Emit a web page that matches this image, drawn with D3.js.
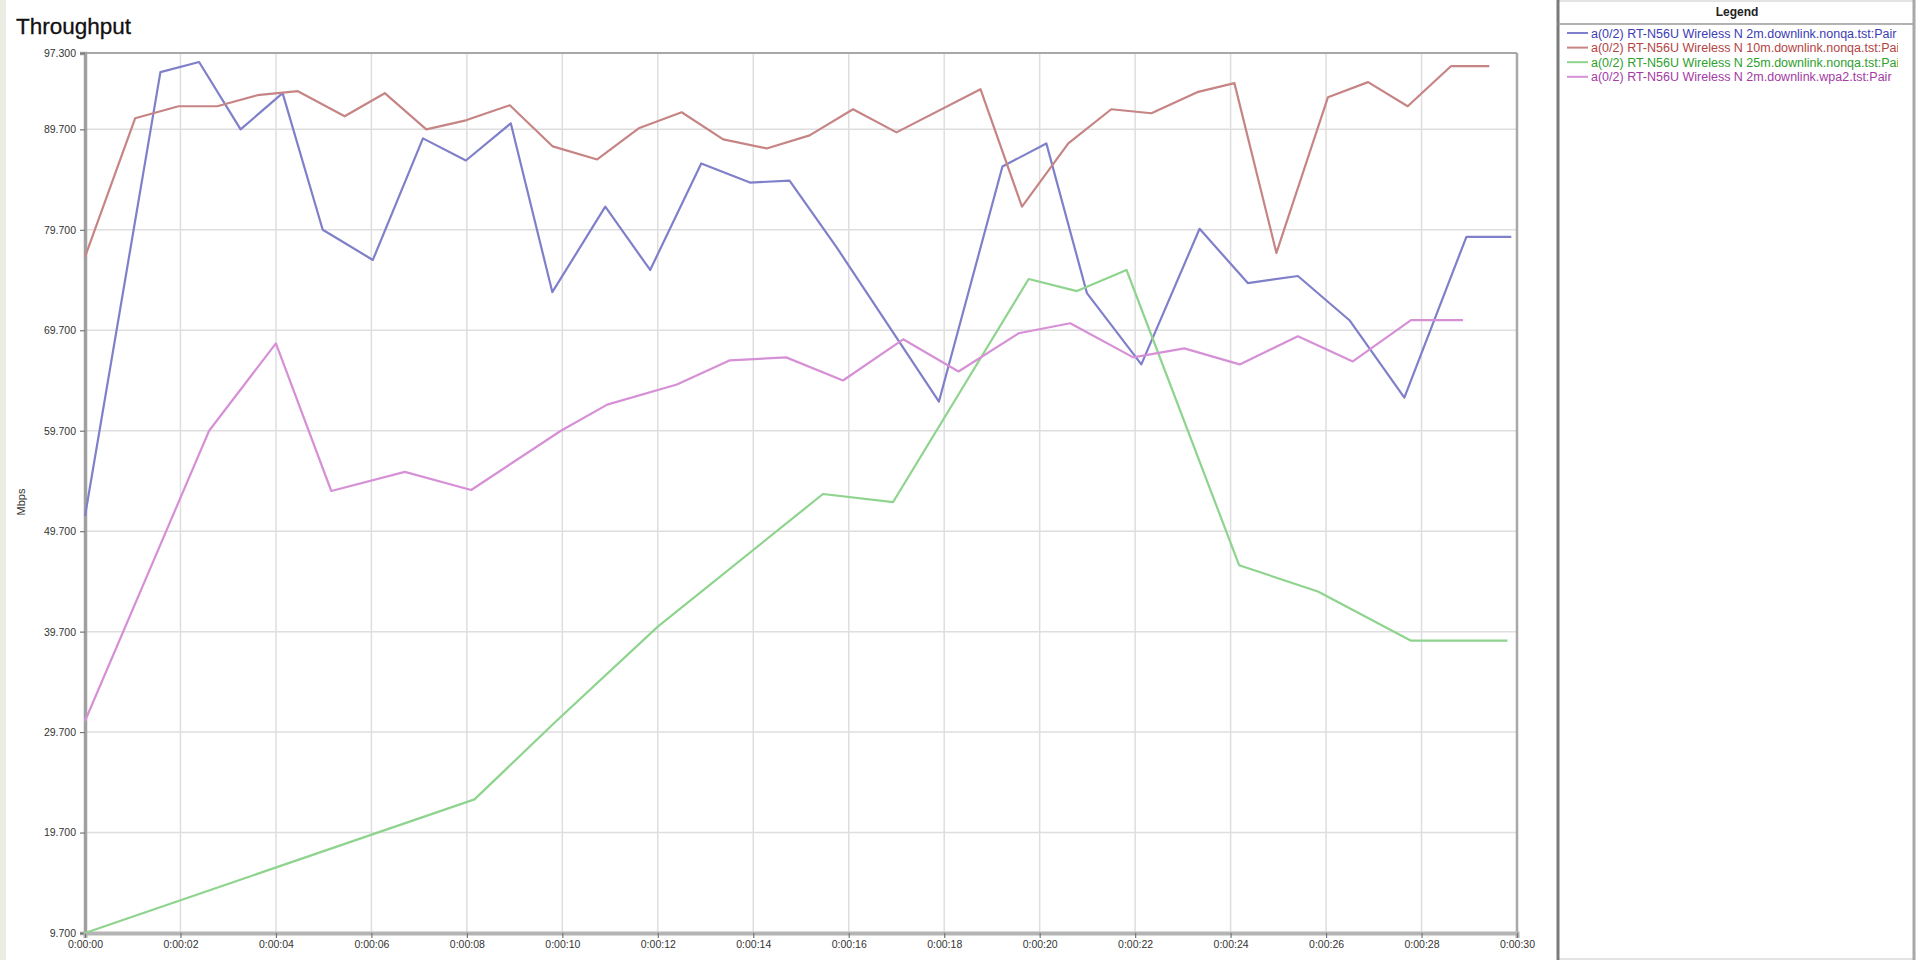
<!DOCTYPE html>
<html>
<head>
<meta charset="utf-8">
<script src="https://cdn.jsdelivr.net/npm/d3@7"></script>
<style>
  html, body { margin: 0; padding: 0; background: #ffffff; }
  svg { display: block; }
  text { font-family: "Liberation Sans", Arial, sans-serif; }
</style>
</head>
<body>
<svg id="chart" width="1920" height="960"></svg>
<script>
// ---- Data ----
const seriesNames = [
  "a(0/2) RT-N56U Wireless N 2m.downlink.nonqa.tst:Pair",
  "a(0/2) RT-N56U Wireless N 10m.downlink.nonqa.tst:Pair",
  "a(0/2) RT-N56U Wireless N 25m.downlink.nonqa.tst:Pair",
  "a(0/2) RT-N56U Wireless N 2m.downlink.wpa2.tst:Pair"
];
const lineColors = ["#7f7fca", "#c68484", "#8ed48e", "#d690d6"];
const textColors = ["#3c3cb4", "#b44444", "#2ea02e", "#a43aa4"];

// seconds
const blueT = [0, 1.58, 2.39, 3.26, 4.14, 4.98, 6.03, 7.08, 7.98, 8.92, 9.79, 10.9, 11.84, 12.91, 13.93, 14.76, 15.74, 17.89, 19.22, 20.14, 20.99, 22.13, 23.35, 24.36, 25.41, 26.49, 27.64, 28.94, 29.88];
const blueV = [51.2, 95.4, 96.4, 89.7, 93.3, 79.7, 76.7, 88.8, 86.6, 90.3, 73.5, 82.0, 75.7, 86.3, 84.4, 84.6, 78.0, 62.6, 86.0, 88.3, 73.4, 66.3, 79.8, 74.4, 75.1, 70.7, 63.0, 79.0, 79.0];

const redT = [0, 1.05, 1.96, 2.77, 3.61, 4.46, 5.44, 6.28, 7.15, 7.98, 8.9, 9.8, 10.73, 11.6, 12.5, 13.37, 14.28, 15.18, 16.09, 17.0, 18.76, 19.63, 20.6, 21.5, 22.34, 23.3, 24.08, 24.96, 26.04, 26.88, 27.71, 28.62, 29.42];
const redV = [77.0, 90.8, 92.0, 92.0, 93.1, 93.5, 91.0, 93.3, 89.7, 90.6, 92.1, 88.0, 86.7, 89.8, 91.4, 88.7, 87.8, 89.1, 91.7, 89.4, 93.7, 82.0, 88.3, 91.7, 91.3, 93.4, 94.3, 77.4, 92.9, 94.4, 92.0, 96.0, 96.0];

const greenT = [0, 8.16, 9.83, 12.0, 15.46, 16.93, 19.77, 20.78, 21.82, 24.18, 25.83, 27.78, 29.8];
const greenV = [9.7, 23.0, 30.6, 40.2, 53.4, 52.6, 74.8, 73.6, 75.7, 46.3, 43.7, 38.8, 38.8];

const magentaT = [0, 2.6, 4.0, 5.16, 6.7, 8.09, 9.97, 10.94, 12.4, 13.5, 14.69, 15.88, 17.14, 18.3, 19.56, 20.64, 21.96, 23.03, 24.19, 25.41, 26.56, 27.78, 28.87];
const magentaV = [30.8, 59.7, 68.4, 53.7, 55.6, 53.8, 59.7, 62.3, 64.3, 66.7, 67.0, 64.7, 68.8, 65.6, 69.4, 70.4, 67.0, 67.9, 66.3, 69.1, 66.6, 70.7, 70.7];

const yTickValues = [9.7, 19.7, 29.7, 39.7, 49.7, 59.7, 69.7, 79.7, 89.7, 97.3];
const xTickValues = [0, 2, 4, 6, 8, 10, 12, 14, 16, 18, 20, 22, 24, 26, 28, 30];
const yDomain = [9.7, 97.3];
const xDomain = [0, 30];

const seriesT = [blueT, redT, greenT, magentaT];
const seriesV = [blueV, redV, greenV, magentaV];

// ---- Layout ----
const svg = d3.select("#chart");
const plot = { left: 85, right: 1517, top: 53, bottom: 933 };

const x = d3.scaleLinear().domain(xDomain).range([plot.left, plot.right]);
const y = d3.scaleLinear().domain(yDomain).range([plot.bottom, plot.top]);

function fmtTime(s) {
  const h = Math.floor(s / 3600), m = Math.floor((s % 3600) / 60), sec = s % 60;
  return h + ":" + String(m).padStart(2, "0") + ":" + String(sec).padStart(2, "0");
}

// left beige strip
svg.append("rect").attr("x", 0).attr("y", 0).attr("width", 6).attr("height", 960).attr("fill", "#ecece4");

// title
svg.append("text").attr("x", 16).attr("y", 34).attr("font-size", 22.5).attr("fill", "#111")
  .attr("stroke", "#111").attr("stroke-width", 0.3).text("Throughput");

// gridlines
const grid = svg.append("g");
grid.selectAll("line.h").data(yTickValues.filter(v => v < yDomain[1])).join("line")
  .attr("x1", plot.left).attr("x2", plot.right)
  .attr("y1", d => y(d)).attr("y2", d => y(d))
  .attr("stroke", "#dedede").attr("stroke-width", 1.5);
grid.selectAll("line.v").data(xTickValues.filter(v => v > xDomain[0] && v < xDomain[1])).join("line")
  .attr("x1", d => x(d)).attr("x2", d => x(d))
  .attr("y1", plot.top).attr("y2", plot.bottom)
  .attr("stroke", "#dedede").attr("stroke-width", 1.5);

// frame
svg.append("line").attr("x1", plot.left).attr("x2", plot.right).attr("y1", plot.top).attr("y2", plot.top)
  .attr("stroke", "#a8a8a8").attr("stroke-width", 2);
svg.append("line").attr("x1", plot.right).attr("x2", plot.right).attr("y1", plot.top).attr("y2", plot.bottom)
  .attr("stroke", "#a8a8a8").attr("stroke-width", 2.5);

// axes
const yAxis = d3.axisLeft(y).tickValues(yTickValues).tickFormat(d3.format(".3f")).tickSize(5).tickPadding(4);
const gy = svg.append("g").attr("transform", `translate(${plot.left},0)`).call(yAxis);
gy.select(".domain").attr("stroke", "#a0a0a0").attr("stroke-width", 3.5);
gy.selectAll(".tick line").attr("stroke", "#777").attr("stroke-width", 1.2);
gy.selectAll(".tick text").attr("font-size", 10.5).attr("fill", "#333")
  .attr("font-family", "'Liberation Sans', Arial, sans-serif");

const xAxis = d3.axisBottom(x).tickValues(xTickValues).tickFormat(fmtTime).tickSize(5).tickPadding(3);
const gx = svg.append("g").attr("transform", `translate(0,${plot.bottom})`).call(xAxis);
gx.select(".domain").attr("stroke", "#b4b4b4").attr("stroke-width", 4);
gx.selectAll(".tick line").attr("stroke", "#777").attr("stroke-width", 1.2);
gx.selectAll(".tick text").attr("font-size", 10.5).attr("fill", "#333")
  .attr("font-family", "'Liberation Sans', Arial, sans-serif");

// y axis title
svg.append("text").attr("transform", "translate(25,502) rotate(-90)")
  .attr("text-anchor", "middle").attr("font-size", 11).attr("fill", "#333").text("Mbps");

// lines
const line = d3.line().x(d => x(d[0])).y(d => y(d[1]));
const linesG = svg.append("g");
seriesT.forEach((ts, i) => {
  const pts = ts.map((t, j) => [t, seriesV[i][j]]);
  linesG.append("path").datum(pts).attr("d", line)
    .attr("fill", "none").attr("stroke", lineColors[i]).attr("stroke-width", 2.2)
    .attr("stroke-linejoin", "round");
});

// legend panel
const lg = svg.append("g");
const lx = 1558, lw = 1920 - lx;
lg.append("rect").attr("x", lx).attr("y", 1).attr("width", lw - 6).attr("height", 958)
  .attr("fill", "#ffffff").attr("stroke", "#c8c8c8").attr("stroke-width", 1);
lg.append("line").attr("x1", lx).attr("x2", lx).attr("y1", 0).attr("y2", 960)
  .attr("stroke", "#7a7a7a").attr("stroke-width", 3);
lg.append("line").attr("x1", 1914).attr("x2", 1914).attr("y1", 0).attr("y2", 960)
  .attr("stroke", "#a8a8a8").attr("stroke-width", 3);
lg.append("text").attr("x", 1737).attr("y", 16).attr("text-anchor", "middle")
  .attr("font-size", 12).attr("font-weight", "bold").attr("fill", "#222").text("Legend");
lg.append("line").attr("x1", lx).attr("x2", 1913).attr("y1", 24).attr("y2", 24)
  .attr("stroke", "#9a9a9a").attr("stroke-width", 1.5);

const clip = svg.append("defs").append("clipPath").attr("id", "legclip");
clip.append("rect").attr("x", lx + 2).attr("y", 25).attr("width", 1896 - lx).attr("height", 100);
const entries = lg.append("g").attr("clip-path", "url(#legclip)");
seriesNames.forEach((name, i) => {
  const yy = 33 + i * 14.6;
  entries.append("line").attr("x1", 1567).attr("x2", 1588).attr("y1", yy).attr("y2", yy)
    .attr("stroke", lineColors[i]).attr("stroke-width", 2);
  entries.append("text").attr("x", 1591).attr("y", yy + 4.5).attr("font-size", 12.5)
    .attr("fill", textColors[i]).text(name);
});
</script>
</body>
</html>
